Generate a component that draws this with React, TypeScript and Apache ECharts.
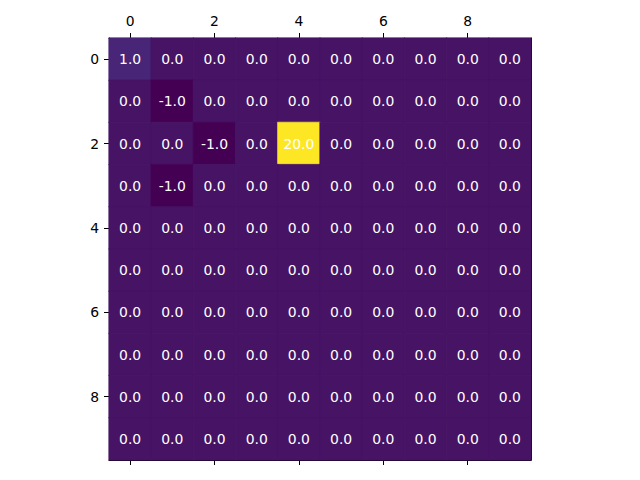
import React, { useEffect, useRef } from "react";
import * as echarts from "echarts";

const columns = ["0", "1", "2", "3", "4", "5", "6", "7", "8", "9"];
const rows = ["0", "1", "2", "3", "4", "5", "6", "7", "8", "9"];
const matrix: number[][] = [
  [1, 0, 0, 0, 0, 0, 0, 0, 0, 0],
  [0, -1, 0, 0, 0, 0, 0, 0, 0, 0],
  [0, 0, -1, 0, 20, 0, 0, 0, 0, 0],
  [0, -1, 0, 0, 0, 0, 0, 0, 0, 0],
  [0, 0, 0, 0, 0, 0, 0, 0, 0, 0],
  [0, 0, 0, 0, 0, 0, 0, 0, 0, 0],
  [0, 0, 0, 0, 0, 0, 0, 0, 0, 0],
  [0, 0, 0, 0, 0, 0, 0, 0, 0, 0],
  [0, 0, 0, 0, 0, 0, 0, 0, 0, 0],
  [0, 0, 0, 0, 0, 0, 0, 0, 0, 0],
];

const FONT = "DejaVu Sans";
const colorFor = (v: number) =>
  v >= 20 ? "#fde725" : v >= 1 ? "#482576" : v >= 0 ? "#471365" : "#440154";

export default function App() {
  const ref = useRef<HTMLDivElement>(null);
  useEffect(() => {
    if (!ref.current) return;
    const chart = echarts.init(ref.current, null, { renderer: "svg" });
    const data: any[] = [];
    matrix.forEach((row, r) =>
      row.forEach((v, c) =>
        data.push({
          value: [c, r, v],
          itemStyle: { borderColor: colorFor(v), borderWidth: 0.6 },
        })
      )
    );
    const tickAxisCommon = {
      type: "category" as const,
      data: columns,
      axisLine: { show: true, lineStyle: { color: "#000", width: 1 } },
      axisTick: {
        show: true,
        alignWithLabel: true,
        interval: 1,
        length: 5,
        lineStyle: { color: "#000", width: 1 },
      },
      splitLine: { show: false },
    };
    chart.setOption({
      animation: false,
      backgroundColor: "#fff",
      grid: {
        left: 109,
        right: 109,
        top: 38,
        bottom: 20,
        show: false,
      },
      xAxis: [
        {
          ...tickAxisCommon,
          position: "top",
          axisLabel: {
            interval: 1,
            color: "#000",
            fontFamily: FONT,
            fontSize: 13.9,
            margin: 10,
          },
        },
        {
          ...tickAxisCommon,
          position: "bottom",
          axisLabel: { show: false },
        },
      ],
      yAxis: [
        {
          type: "category",
          data: rows,
          inverse: true,
          position: "left",
          axisLine: { show: true, lineStyle: { color: "#000", width: 1 } },
          axisTick: {
            show: true,
            alignWithLabel: true,
            interval: 1,
            length: 5,
            lineStyle: { color: "#000", width: 1 },
          },
          axisLabel: {
            interval: 1,
            color: "#000",
            fontFamily: FONT,
            fontSize: 13.9,
            margin: 10,
          },
          splitLine: { show: false },
        },
        {
          type: "category",
          data: rows,
          inverse: true,
          position: "right",
          axisLine: { show: true, lineStyle: { color: "#000", width: 1 } },
          axisTick: { show: false },
          axisLabel: { show: false },
          splitLine: { show: false },
        },
      ],
      visualMap: {
        type: "piecewise",
        show: false,
        dimension: 2,
        pieces: [
          { value: -1, color: "#440154" },
          { value: 0, color: "#471365" },
          { value: 1, color: "#482576" },
          { value: 20, color: "#fde725" },
        ],
      },
      series: [
        {
          type: "heatmap",
          xAxisIndex: 0,
          yAxisIndex: 0,
          data,
          label: {
            show: true,
            color: "#fff",
            fontFamily: FONT,
            fontSize: 13.9,
            formatter: (p: any) => (p.value[2] as number).toFixed(1),
          },
          emphasis: { disabled: true },
        },
      ],
    });
    return () => chart.dispose();
  }, []);
  return (
    <div
      ref={ref}
      style={{ position: "fixed", left: 0, top: 0, width: 640, height: 480 }}
    />
  );
}
